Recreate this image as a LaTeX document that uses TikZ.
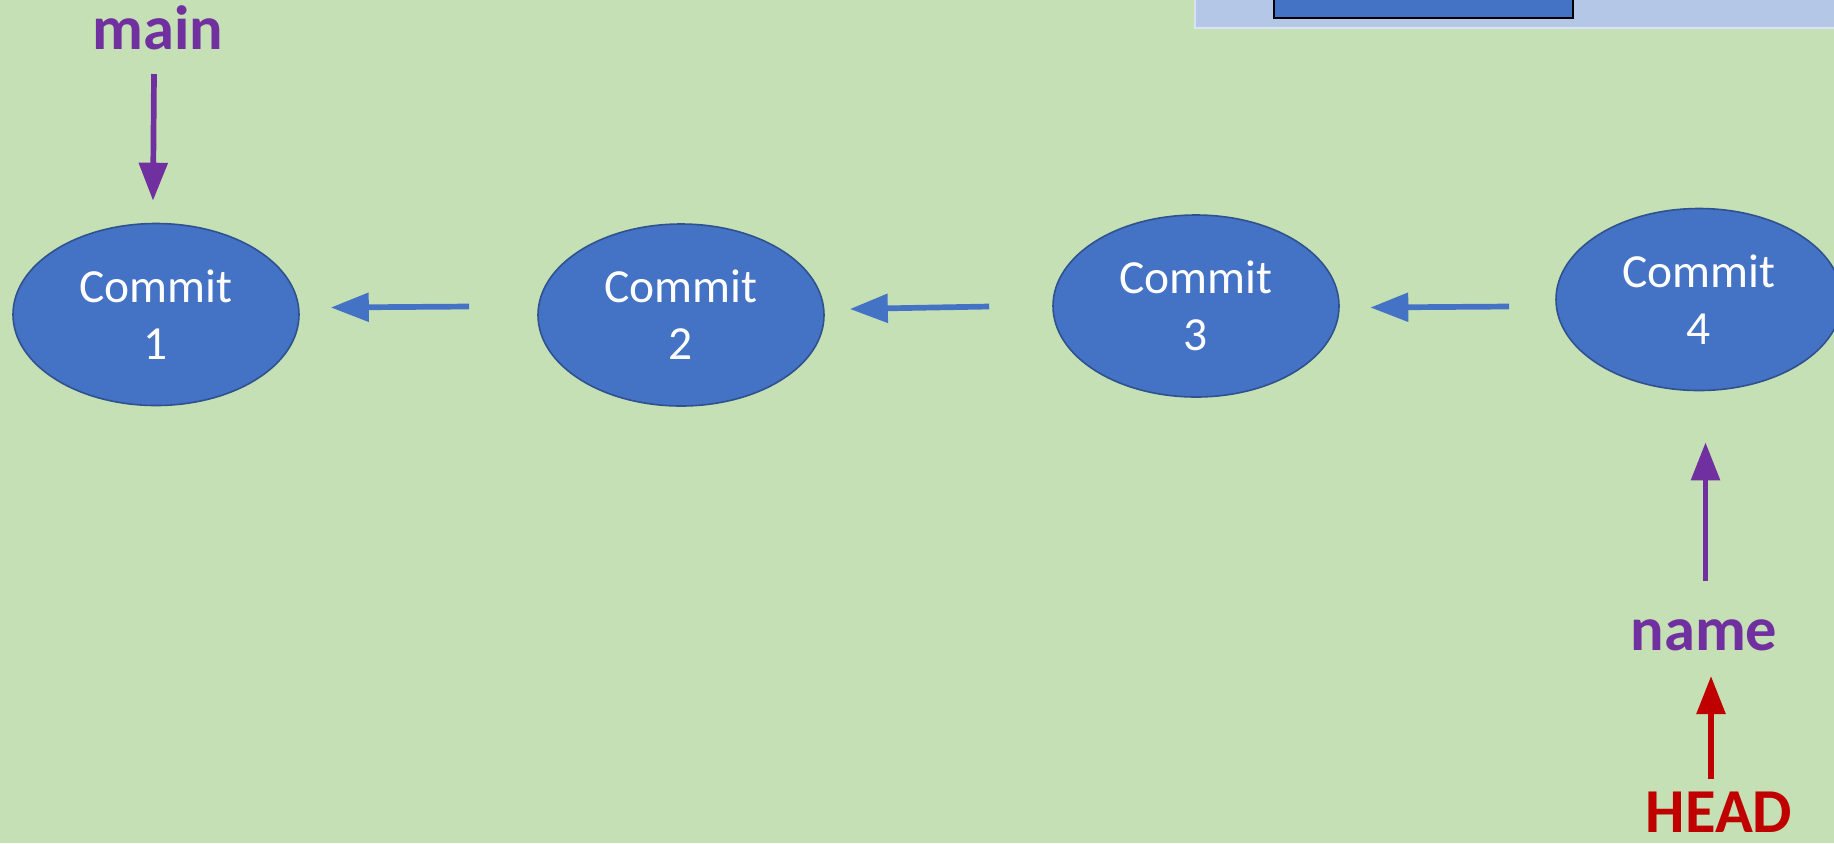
\documentclass[tikz,border=0pt]{standalone}
\usepackage{fontspec}
\setmainfont{Carlito}
\usetikzlibrary{arrows.meta,shapes.geometric,calc}

\definecolor{bggreen}{HTML}{C5E0B4}
\definecolor{commitblue}{HTML}{4472C4}
\definecolor{commitedge}{HTML}{2F528F}
\definecolor{panelfill}{HTML}{B4C7E7}
\definecolor{paneledge}{HTML}{DAE3F3}
\definecolor{refpurple}{HTML}{7030A0}
\definecolor{headred}{HTML}{C00000}

\tikzset{
  commit/.style={ellipse, draw=commitedge, line width=0.8pt, fill=commitblue,
    minimum width=143pt, minimum height=91pt, inner sep=0pt, align=center,
    text=white, font=\fontsize{23.75}{28.5}\selectfont},
  reflabel/.style={anchor=base, inner sep=0pt, font=\bfseries\fontsize{31.25}{36}\selectfont},
  ptr/.style={line width=2.85pt, -{Triangle[length=19pt,width=14pt]}},
  parentlink/.style={ptr, draw=commitblue},
}

\begin{document}
\begin{tikzpicture}[x=0.5pt,y=-0.5pt]
  \useasboundingbox (0,0) rectangle (1834,843);
  \clip (0,0) rectangle (1834,843);
  \fill[bggreen] (0,0) rectangle (1834,843);

  % panel partly visible along the top edge
  \draw[draw=paneledge, line width=1.2pt, fill=panelfill] (1195,-10) rectangle (1850,28);
  \draw[draw=black, line width=1pt, fill=commitblue] (1274,-10) rectangle (1573,17.5);

  % commits
  \node[commit] (c1) at (156,314.5) {Commit\\1};
  \node[commit] (c2) at (681,315)   {Commit\\2};
  \node[commit] (c3) at (1196,306)  {Commit\\3};
  \node[commit] (c4) at (1699,299.5){Commit\\4};

  % parent links
  \draw[parentlink] ($(c2.west)+(-68,-8.5)$) -- ($(c1.east)+(31,-7)$);
  \draw[parentlink] ($(c3.west)+(-63,0.5)$)  -- ($(c2.east)+(25,-6)$);
  \draw[parentlink] ($(c4.west)+(-46,7)$)    -- ($(c3.east)+(30.5,1.5)$);

  % references
  \node[reflabel, text=refpurple] (main) at (158,49)  {main};
  \node[reflabel, text=refpurple] (name) at (1704,650) {name};
  \node[reflabel, text=headred]   (head) at (1719,832) {HEAD};

  \draw[ptr, draw=refpurple] ($(main.base)+(-4,25)$) -- ($(c1.north)+(-3,-22)$);
  \draw[ptr, draw=refpurple] ($(name.base)+(1.5,-69)$) -- ($(c4.south)+(6.5,51)$);
  \draw[ptr, draw=headred]   ($(head.base)+(-8,-53)$) -- ($(name.base)+(7,26)$);
\end{tikzpicture}
\end{document}
